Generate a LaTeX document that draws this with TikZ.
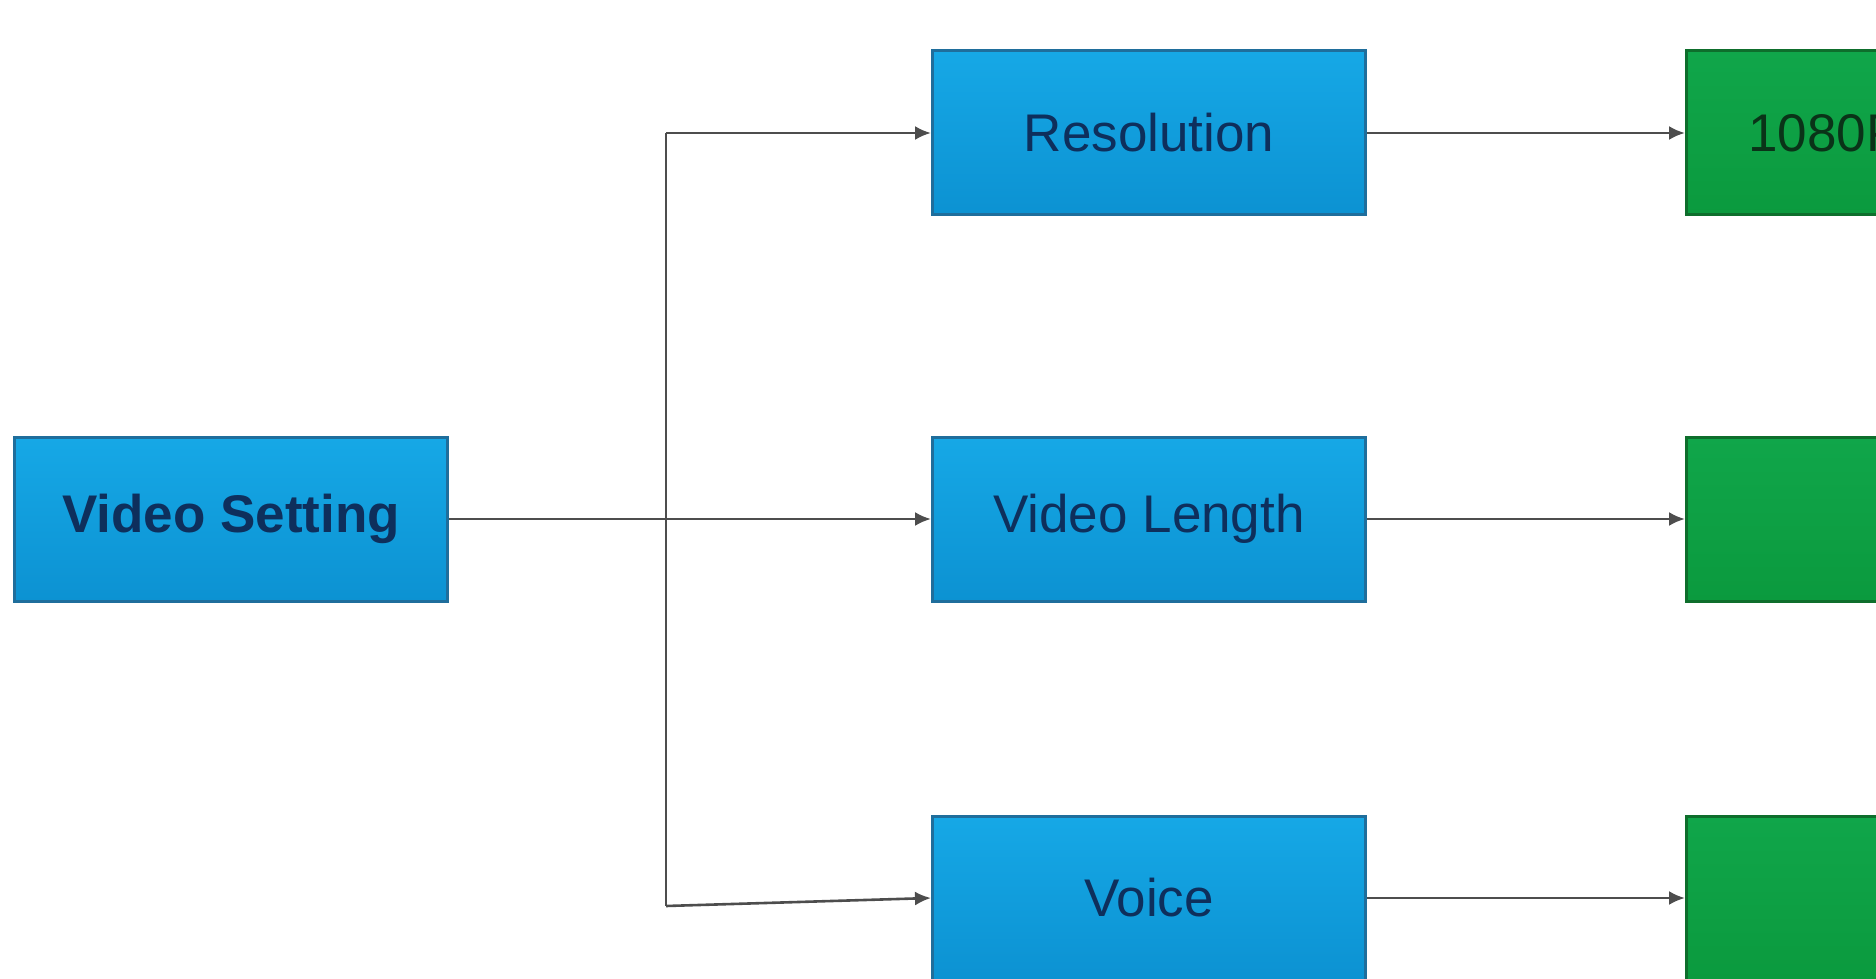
\documentclass[tikz,border=0pt]{standalone}
\usepackage{fontspec}
\setmainfont{Liberation Sans}
\usetikzlibrary{arrows.meta}
\definecolor{bluetop}{HTML}{16A8E6}
\definecolor{bluebot}{HTML}{0C92D2}
\definecolor{blueedge}{HTML}{1F6E9C}
\definecolor{bluetext}{HTML}{0E2F5C}
\definecolor{greentop}{HTML}{10A64A}
\definecolor{greenbot}{HTML}{0B9A3E}
\definecolor{greenedge}{HTML}{0E6E2C}
\definecolor{greentext}{HTML}{0A3318}
\definecolor{linegray}{HTML}{4D4D4D}
\tikzset{
  bluebox/.style = {draw=blueedge, line width=1.5pt, top color=bluetop, bottom color=bluebot,
    minimum width=216.5pt, minimum height=82pt, inner sep=0pt, text=bluetext,
    font=\fontsize{26.5}{30}\selectfont},
  greenbox/.style = {draw=greenedge, line width=1.5pt, top color=greentop, bottom color=greenbot,
    minimum height=82pt, inner ysep=0pt, inner xsep=31pt, text width=154.5pt, align=left,
    text=greentext, font=\fontsize{26.5}{30}\selectfont},
  link/.style = {draw=linegray, line width=1.3pt},
  arrow/.style = {link, -{Latex[length=8pt,width=7pt]}},
}
\begin{document}
\begin{tikzpicture}[x=0.5pt, y=-0.5pt]
	\useasboundingbox (0,0) rectangle (1876,979);
	\fill[white] (0,0) rectangle (1876,979);
	% left box
	\node[bluebox, font=\bfseries\fontsize{26.5}{30}\selectfont] (setting) at (231,519) {Video Setting};
	% middle column
	\node[bluebox] (resolution) at (1149,133) {Resolution};
	\node[bluebox] (length) at (1149,519) {Video Length};
	\node[bluebox] (voice) at (1149,898) {Voice};
	% right column
	\node[greenbox] (res1080) at (1903,133) {1080P};
	\node[greenbox] (lengthval) at (1903,519) {};
	\node[greenbox] (voiceval) at (1903,898) {};
	% connectors
	\coordinate (jtop) at (666,133);
	\coordinate (jbot) at (666,906);
	\draw[link] (jtop) -- (jbot);
	\draw[arrow] (jtop) -- (resolution.west);
	\draw[arrow] (setting) -- (length);
	\draw[arrow] (jbot) -- (voice.west);
	\draw[arrow] (resolution) -- (res1080);
	\draw[arrow] (length) -- (lengthval);
	\draw[arrow] (voice) -- (voiceval);
\end{tikzpicture}
\end{document}
